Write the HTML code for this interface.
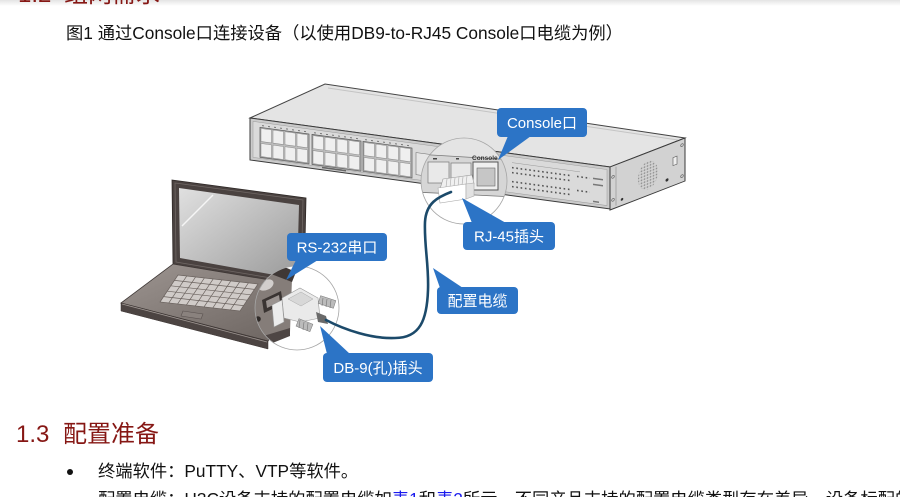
<!DOCTYPE html>
<html>
<head>
<meta charset="utf-8">
<style>
  html,body{margin:0;padding:0;background:#fff;width:900px;height:497px;overflow:hidden;}
  #wrap{position:relative;width:900px;height:497px;overflow:hidden;
       font-family:"Liberation Sans","Noto Sans CJK SC",sans-serif;color:#111;}
  .abs{position:absolute;white-space:nowrap;}
  .h{font-size:24px;line-height:24px;color:#861714;}
  .t{font-size:17.3px;line-height:20px;color:#111;}
  .lnk{color:#1a1aee;}
</style>
</head>
<body>
<div id="wrap">
<div class="abs" style="left:0;top:0;width:900px;height:6px;background:linear-gradient(#e4e4e4,#ffffff);"></div>

<span class="abs h" style="left:18px;top:-17px;">1.2</span>
<span class="abs h" style="left:64px;top:-17px;">组网需求</span>

<div class="abs t" style="left:66px;top:23px;">图1 通过Console口连接设备（以使用DB9-to-RJ45 Console口电缆为例）</div>

<svg class="abs" style="left:0;top:0" width="900" height="497" viewBox="0 0 900 497" xmlns="http://www.w3.org/2000/svg">
  <defs>
    <clipPath id="c1"><circle cx="464" cy="181" r="43"/></clipPath>
    <clipPath id="c2"><circle cx="297" cy="308" r="42"/></clipPath>
    <linearGradient id="scr" x1="0" y1="0" x2="1" y2="1">
      <stop offset="0" stop-color="#e0e0e0"/><stop offset="1" stop-color="#9a9a9a"/>
    </linearGradient>
    <linearGradient id="deck" x1="0" y1="0" x2="1" y2="1">
      <stop offset="0" stop-color="#9d9591"/><stop offset="1" stop-color="#6a625e"/>
    </linearGradient>
    <pattern id="hex" width="3" height="3" patternUnits="userSpaceOnUse">
      <circle cx="1.5" cy="1.5" r="0.9" fill="#8f8f8f"/>
    </pattern>
  </defs>

  <!-- ===== Switch ===== -->
  <polygon points="250,118 325,84 685,138 610,167" fill="#e4e4e4" stroke="#444" stroke-width="1"/>
  <polyline points="328,88 678,140" fill="none" stroke="#c4c4c4" stroke-width="1"/>

  <g transform="matrix(1,0.136,0,1,250,118)">
    <rect x="0" y="0" width="360" height="42" fill="#cbcbcb" stroke="#3a3a3a" stroke-width="1"/>
    <rect x="3" y="3" width="354" height="36" fill="#dadada" stroke="#9a9a9a" stroke-width="0.5"/>
    <line x1="12" y1="6" x2="58" y2="6" stroke="#777" stroke-width="1" stroke-dasharray="2 4"/>
    <line x1="64" y1="6" x2="110" y2="6" stroke="#777" stroke-width="1" stroke-dasharray="2 4"/>
    <line x1="115" y1="6" x2="161" y2="6" stroke="#777" stroke-width="1" stroke-dasharray="2 4"/>
    <rect x="10" y="8" width="49" height="30" fill="#bdbdbd" stroke="#555" stroke-width="0.7"/>
    <g fill="#efefef" stroke="#888" stroke-width="0.5">
      <rect x="11" y="9" width="10.5" height="13"/><rect x="23" y="9" width="10.5" height="13"/>
      <rect x="35" y="9" width="10.5" height="13"/><rect x="47" y="9" width="10.5" height="13"/>
      <rect x="11" y="24" width="10.5" height="13"/><rect x="23" y="24" width="10.5" height="13"/>
      <rect x="35" y="24" width="10.5" height="13"/><rect x="47" y="24" width="10.5" height="13"/>
    </g>
    <rect x="62" y="8" width="49" height="30" fill="#bdbdbd" stroke="#555" stroke-width="0.7"/>
    <g fill="#efefef" stroke="#888" stroke-width="0.5">
      <rect x="63" y="9" width="10.5" height="13"/><rect x="75" y="9" width="10.5" height="13"/>
      <rect x="87" y="9" width="10.5" height="13"/><rect x="99" y="9" width="10.5" height="13"/>
      <rect x="63" y="24" width="10.5" height="13"/><rect x="75" y="24" width="10.5" height="13"/>
      <rect x="87" y="24" width="10.5" height="13"/><rect x="99" y="24" width="10.5" height="13"/>
    </g>
    <rect x="113" y="8" width="49" height="30" fill="#bdbdbd" stroke="#555" stroke-width="0.7"/>
    <g fill="#efefef" stroke="#888" stroke-width="0.5">
      <rect x="114" y="9" width="10.5" height="13"/><rect x="126" y="9" width="10.5" height="13"/>
      <rect x="138" y="9" width="10.5" height="13"/><rect x="150" y="9" width="10.5" height="13"/>
      <rect x="114" y="24" width="10.5" height="13"/><rect x="126" y="24" width="10.5" height="13"/>
      <rect x="138" y="24" width="10.5" height="13"/><rect x="150" y="24" width="10.5" height="13"/>
    </g>
    <rect x="72" y="39" width="24" height="1.5" fill="#666"/>
    <rect x="166" y="12" width="20" height="22" fill="#e6e6e6" stroke="#777" stroke-width="0.6"/>
    <g stroke="#555" stroke-width="1.6" stroke-dasharray="1.6 2.7">
      <line x1="262" y1="14" x2="322" y2="14"/>
      <line x1="262" y1="19" x2="322" y2="19"/>
      <line x1="262" y1="28" x2="322" y2="28"/>
      <line x1="262" y1="33" x2="322" y2="33"/>
      <line x1="327" y1="14" x2="340" y2="14"/>
      <line x1="327" y1="28" x2="340" y2="28"/>
    </g>
    <line x1="262" y1="9" x2="330" y2="9" stroke="#999" stroke-width="0.6"/>
    <rect x="343" y="13" width="10" height="1.5" fill="#777"/>
    <rect x="343" y="19" width="10" height="1.5" fill="#777"/>
    <rect x="343" y="36" width="6" height="1.5" fill="#777"/>
  </g>

  <g transform="matrix(1,-0.3867,0,1,610,167)">
    <rect x="0" y="0" width="75" height="43" fill="#d2d2d2" stroke="#3a3a3a" stroke-width="1"/>
    <line x1="6" y1="2" x2="6" y2="41" stroke="#8a8a8a" stroke-width="0.6"/>
    <ellipse cx="38" cy="23" rx="10" ry="14" fill="url(#hex)"/>
    <rect x="63" y="15" width="4" height="8" fill="#eee" stroke="#555" stroke-width="0.6"/>
    <circle cx="57" cy="35" r="1.5" fill="#333"/>
    <circle cx="12" cy="37" r="1.3" fill="#333"/>
    <circle cx="3" cy="11" r="1.3" fill="none" stroke="#555" stroke-width="0.6"/>
    <circle cx="3" cy="34" r="1.3" fill="none" stroke="#555" stroke-width="0.6"/>
    <circle cx="72" cy="6" r="1.3" fill="none" stroke="#555" stroke-width="0.6"/>
    <circle cx="72" cy="37" r="1.3" fill="none" stroke="#555" stroke-width="0.6"/>
  </g>

  <!-- magnifier 1 -->
  <circle cx="464" cy="181" r="43" fill="#fff"/>
  <g clip-path="url(#c1)">
    <polygon points="415,130 515,130 515,160 415,154" fill="#e4e4e4"/>
    <polygon points="415,154 515,160 515,197 415,192" fill="#d6d6d6" stroke="#777" stroke-width="0.8"/>
    <rect x="428" y="162" width="21" height="21" fill="#e9e9e9" stroke="#777" stroke-width="0.7"/>
    <rect x="451" y="163" width="20" height="21" fill="#e9e9e9" stroke="#777" stroke-width="0.7"/>
    <rect x="433" y="158" width="4" height="1.5" fill="#444"/>
    <rect x="456" y="158" width="3" height="1.5" fill="#444"/>
    <rect x="473" y="162" width="25" height="28" fill="#efefef" stroke="#555" stroke-width="1"/>
    <rect x="477" y="168" width="18" height="18" fill="#c6c6c6" stroke="#666" stroke-width="0.6"/>
    <text x="472" y="160" font-family="Liberation Sans, sans-serif" font-size="6.5" font-weight="bold" fill="#333">Console</text>
    <polygon points="443,179 472,175 474,184 440,189" fill="#f0f0f0" stroke="#999" stroke-width="0.6"/>
    <g stroke="#aaa" stroke-width="0.6">
      <line x1="447" y1="179" x2="446" y2="187"/><line x1="451" y1="178" x2="450" y2="187"/>
      <line x1="455" y1="178" x2="454" y2="186"/><line x1="459" y1="177" x2="458" y2="186"/>
      <line x1="463" y1="177" x2="462" y2="185"/><line x1="467" y1="176" x2="466" y2="185"/>
    </g>
    <polygon points="438,188 466,184 466,199 440,203" fill="#fff" stroke="#aaa" stroke-width="0.6"/>
    <polygon points="466,184 474,183 474,196 466,199" fill="#e2e2e2" stroke="#aaa" stroke-width="0.6"/>
  </g>
  <circle cx="464" cy="181" r="43" fill="none" stroke="#a6a6a6" stroke-width="0.8"/>

  <!-- ===== Laptop ===== -->
  <polygon points="172,180 306,198 304,286 173,264" fill="#4a4240" stroke="#2e2826" stroke-width="0.8"/>
  <polygon points="175,183 303,200 301,283 176,262" fill="none" stroke="#6f6764" stroke-width="0.8"/>
  <polygon points="179,188 299,205 297,279 180,258" fill="url(#scr)"/>
  <line x1="182" y1="226" x2="213" y2="195" stroke="#fff" stroke-width="1.4" opacity="0.8"/>

  <polygon points="173,264 306,286 268,341 121,303" fill="url(#deck)" stroke="#3f3836" stroke-width="0.8"/>
  <polygon points="121,303 268,341 268,349 121,311" fill="#4c4442" stroke="#3a3331" stroke-width="0.5"/>
  <line x1="122" y1="304" x2="267" y2="342" stroke="#a09894" stroke-width="0.8"/>

  <g transform="matrix(80,9,-18,27,178,275)">
    <rect x="0" y="0" width="1" height="1" fill="#d0cbc8" stroke="#6a625e" stroke-width="0.7" vector-effect="non-scaling-stroke"/>
    <g stroke="#6a625e" fill="none">
      <line x1="0" y1="0.2" x2="1" y2="0.2" stroke-width="0.7" vector-effect="non-scaling-stroke"/>
      <line x1="0" y1="0.4" x2="1" y2="0.4" stroke-width="0.7" vector-effect="non-scaling-stroke"/>
      <line x1="0" y1="0.6" x2="1" y2="0.6" stroke-width="0.7" vector-effect="non-scaling-stroke"/>
      <line x1="0" y1="0.8" x2="1" y2="0.8" stroke-width="0.7" vector-effect="non-scaling-stroke"/>
      <line x1="0.11" y1="0" x2="0.11" y2="1" stroke-width="0.7" vector-effect="non-scaling-stroke"/>
      <line x1="0.22" y1="0" x2="0.22" y2="1" stroke-width="0.7" vector-effect="non-scaling-stroke"/>
      <line x1="0.33" y1="0" x2="0.33" y2="1" stroke-width="0.7" vector-effect="non-scaling-stroke"/>
      <line x1="0.44" y1="0" x2="0.44" y2="1" stroke-width="0.7" vector-effect="non-scaling-stroke"/>
      <line x1="0.55" y1="0" x2="0.55" y2="1" stroke-width="0.7" vector-effect="non-scaling-stroke"/>
      <line x1="0.66" y1="0" x2="0.66" y2="1" stroke-width="0.7" vector-effect="non-scaling-stroke"/>
      <line x1="0.77" y1="0" x2="0.77" y2="1" stroke-width="0.7" vector-effect="non-scaling-stroke"/>
      <line x1="0.88" y1="0" x2="0.88" y2="1" stroke-width="0.7" vector-effect="non-scaling-stroke"/>
    </g>
  </g>
  <polygon points="183,311 203,314 201,319 181,316" fill="#8a827e" stroke="#5a5250" stroke-width="0.6"/>

  <!-- magnifier 2 -->
  <circle cx="297" cy="308" r="42" fill="#fff"/>
  <g clip-path="url(#c2)">
    <polygon points="250,262 292,279 290,332 250,346" fill="#857d79"/>
    <polygon points="250,252 296,272 292,282 250,266" fill="#3f3836"/>
    <polygon points="250,340 290,328 290,336 250,352" fill="#4e4644"/>
    <ellipse cx="266" cy="285" rx="8" ry="5" transform="rotate(-25 266 285)" fill="#d2cecc"/>
    <polygon points="262,300 281,291 283,304 264,313" fill="#3a3432"/>
    <polygon points="266,301 279,295 280,302 267,308" fill="#9a9390"/>
    <circle cx="258" cy="319" r="2.8" fill="#2f2a28"/>
    <polygon points="272,305 282,300 284,322 274,327" fill="#ececec" stroke="#999" stroke-width="0.6"/>
    <polygon points="282,298 300,288 318,298 320,318 300,322 284,318" fill="#eaeaea" stroke="#999" stroke-width="0.6"/>
    <polygon points="288,299 301,292 313,299 301,306" fill="#d8d8d8" stroke="#aaa" stroke-width="0.5"/>
    <rect x="319" y="298" width="16" height="8" fill="#bbb" stroke="#777" stroke-width="0.5" transform="rotate(18 327 302)"/>
    <rect x="297" y="321" width="15" height="8" fill="#bbb" stroke="#777" stroke-width="0.5" transform="rotate(22 304 325)"/>
    <g stroke="#777" stroke-width="0.6">
      <line x1="323" y1="298" x2="322" y2="306"/><line x1="327" y1="299" x2="326" y2="307"/><line x1="331" y1="300" x2="330" y2="308"/>
      <line x1="300" y1="320" x2="299" y2="328"/><line x1="304" y1="322" x2="303" y2="330"/><line x1="308" y1="323" x2="307" y2="331"/>
    </g>
    <polygon points="316,312 326,316 328,324 318,322" fill="#6a6a6a"/>
  </g>
  <circle cx="297" cy="308" r="42" fill="none" stroke="#a6a6a6" stroke-width="0.8"/>

  <!-- cable -->
  <path d="M451,192 C438,197 426,203 425,222 C424,245 429,265 428,290 C427,320 420,338 395,338 C372,339 345,330 326,320"
        fill="none" stroke="#1c4a6a" stroke-width="2.6" stroke-linecap="round"/>

  <!-- callouts -->
  <g fill="#2c74c6">
    <rect x="497" y="108" width="90" height="29" rx="4"/>
    <polygon points="508,136 531,136 498,160"/>
    <rect x="463" y="222" width="92" height="28" rx="4"/>
    <polygon points="472,223 506,223 462,198"/>
    <rect x="287" y="233" width="100" height="28" rx="4"/>
    <polygon points="296,260 318,260 286,280"/>
    <rect x="437" y="287" width="81" height="27" rx="4"/>
    <polygon points="440,288 463,288 433,268"/>
    <rect x="323" y="353" width="110" height="29" rx="4"/>
    <polygon points="327,354 350,354 320,326"/>
  </g>
  <g fill="#fff" font-family="Liberation Sans, Noto Sans CJK SC, sans-serif" font-size="15" text-anchor="middle">
    <text x="542" y="128">Console口</text>
    <text x="509" y="241.5">RJ-45插头</text>
    <text x="337" y="252.5">RS-232串口</text>
    <text x="477.5" y="306">配置电缆</text>
    <text x="378" y="373">DB-9(孔)插头</text>
  </g>
</svg>

<span class="abs h" style="left:16px;top:423px;">1.3</span>
<span class="abs h" style="left:63px;top:423px;">配置准备</span>

<div class="abs" style="left:67px;top:469px;width:6px;height:6px;border-radius:50%;background:#111;"></div>
<div class="abs t" style="left:98px;top:461px;">终端软件：PuTTY、VTP等软件。</div>
<div class="abs t" style="left:98px;top:489px;width:802px;height:8px;overflow:hidden;">配置电缆：H3C设备支持的配置电缆如<span class="lnk">表1</span>和<span class="lnk">表2</span>所示。不同产品支持的配置电缆类型存在差异，设备标配的配置电缆</div>
</div>
</body>
</html>
